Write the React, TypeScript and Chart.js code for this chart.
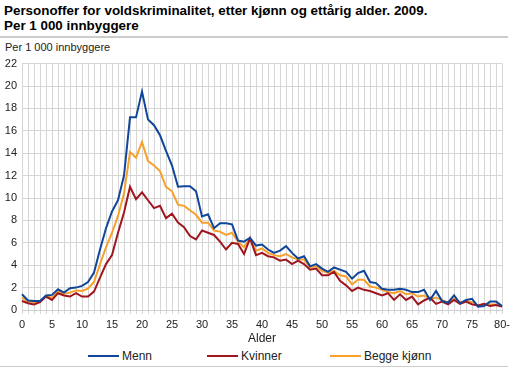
import React, { useEffect, useRef } from "react";
import { Chart, registerables } from "chart.js";

Chart.register(...registerables);

const FONT = "'Liberation Sans', Arial, Helvetica, sans-serif";

const ages: string[] = [
  "0","1","2","3","4","5","6","7","8","9",
  "10","11","12","13","14","15","16","17","18","19",
  "20","21","22","23","24","25","26","27","28","29",
  "30","31","32","33","34","35","36","37","38","39",
  "40","41","42","43","44","45","46","47","48","49",
  "50","51","52","53","54","55","56","57","58","59",
  "60","61","62","63","64","65","66","67","68","69",
  "70","71","72","73","74","75","76","77","78","79",
  "80-",
];

const menn: number[] = [
  1.4, 0.85, 0.8, 0.8, 1.3, 1.35, 1.85, 1.55, 1.95, 2.0,
  2.15, 2.5, 3.35, 5.4, 7.3, 8.8, 9.8, 12.0, 17.2, 17.2,
  19.5, 17.0, 16.5, 15.6, 14.2, 12.9, 11.0, 11.05, 11.05, 10.6,
  8.35, 8.55, 7.3, 7.75, 7.75, 7.65, 6.2, 6.1, 6.45, 5.75,
  5.85, 5.4, 5.1, 5.3, 5.7, 5.1, 4.6, 4.8, 3.9, 4.1,
  3.7, 3.4, 3.8, 3.6, 3.4, 2.8, 3.3, 3.5, 2.5, 2.4,
  1.9, 1.8, 1.8, 1.9, 1.8, 1.6, 1.6, 1.8, 0.9, 1.7,
  0.8, 0.65, 1.3, 0.6, 0.9, 1.0, 0.3, 0.35, 0.75, 0.75,
  0.35,
];

const kvinner: number[] = [
  0.8, 0.6, 0.5, 0.7, 1.2, 0.9, 1.5, 1.3, 1.2, 1.5,
  1.2, 1.2, 1.65, 2.9, 4.1, 4.9, 6.9, 8.7, 11.0, 9.9,
  10.5, 9.8, 9.1, 9.3, 8.2, 8.6, 7.8, 7.4, 6.6, 6.3,
  7.1, 6.9, 6.7, 6.1, 5.4, 6.0, 5.9, 5.0, 6.4, 4.9,
  5.1, 4.8, 4.7, 4.4, 4.5, 4.1, 4.4, 4.1, 3.6, 3.7,
  3.1, 3.1, 3.4, 2.6, 2.2, 1.7, 2.0, 1.8, 1.7, 1.5,
  1.3, 1.5, 0.9, 1.4, 0.9, 1.2, 0.5, 0.85, 1.1, 0.55,
  0.75, 0.5, 0.9, 0.55, 0.75, 0.5, 0.4, 0.55, 0.35, 0.45,
  0.3,
];

const begge: number[] = [
  1.1, 0.75, 0.7, 0.75, 1.25, 1.1, 1.65, 1.45, 1.55, 1.75,
  1.7, 1.9, 2.5, 4.1, 5.6, 6.9, 8.4, 10.4, 14.1, 13.6,
  15.0, 13.3, 12.9, 12.4, 11.0, 10.6, 9.4, 9.3, 8.9, 8.5,
  7.8, 7.8, 7.1, 7.0, 6.7, 6.9, 6.1, 5.6, 6.4, 5.3,
  5.5, 5.1, 4.9, 4.8, 5.0, 4.7, 4.5, 4.5, 3.8, 3.9,
  3.5, 3.3, 3.5, 3.1, 3.0, 2.3, 2.7, 2.7, 2.1, 2.0,
  1.8, 1.6, 1.5, 1.7, 1.4, 1.5, 1.2, 1.3, 1.0, 1.1,
  0.9, 0.65, 1.0, 0.7, 0.8, 0.7, 0.35, 0.45, 0.5, 0.5,
  0.3,
];

const seriesNames = ["Menn", "Kvinner", "Begge kjønn"];
const seriesColors = ["#10469a", "#a0161f", "#f7a02c"];

const titleLine1 = "Personoffer for voldskriminalitet, etter kjønn og ettårig alder. 2009.";
const titleLine2 = "Per 1 000 innbyggere";
const yAxisLabel = "Per 1 000 innbyggere";
const xAxisLabel = "Alder";

export default function App() {
  const canvasRef = useRef<HTMLCanvasElement | null>(null);

  useEffect(() => {
    if (!canvasRef.current) return;
    const seriesData = [menn, kvinner, begge];
    const chart = new Chart(canvasRef.current, {
      type: "line",
      data: {
        labels: ages,
        datasets: seriesNames.map((name, i) => ({
          label: name,
          data: seriesData[i],
          borderColor: seriesColors[i],
          backgroundColor: seriesColors[i],
          borderWidth: 2,
          pointRadius: 0,
          tension: 0,
          fill: false,
        })),
      },
      options: {
        responsive: false,
        animation: false,
        layout: { padding: { top: 10, right: 9, left: 0, bottom: 0 } },
        plugins: {
          legend: { display: false },
          tooltip: { enabled: false },
        },
        scales: {
          x: {
            type: "category",
            offset: false,
            grid: { color: "#d6d6d6", lineWidth: 1, tickLength: 4, drawTicks: true },
            border: { color: "#cfcfcf" },
            ticks: {
              autoSkip: false,
              maxRotation: 0,
              minRotation: 0,
              padding: 4,
              color: "#222",
              font: { family: FONT, size: 11 },
              callback: (_v: any, idx: number) => (idx % 5 === 0 ? ages[idx] : ""),
            },
            title: {
              display: true,
              text: xAxisLabel,
              color: "#222",
              font: { family: FONT, size: 12 },
              padding: { top: 0, bottom: 0 },
            },
            afterFit: (s: any) => {
              s.height = 36;
            },
          },
          y: {
            min: 0,
            max: 22,
            grid: { color: "#d6d6d6", lineWidth: 1, drawTicks: false },
            border: { display: false },
            ticks: {
              stepSize: 2,
              padding: 5,
              color: "#222",
              font: { family: FONT, size: 11 },
            },
            afterFit: (s: any) => {
              s.width = 22;
            },
          },
        },
      },
    });
    return () => chart.destroy();
  }, []);

  const legendItems = [
    { x: 88, tx: 122 },
    { x: 207, tx: 241 },
    { x: 330, tx: 364 },
  ];

  return (
    <div
      style={{
        position: "absolute",
        left: 0,
        top: 0,
        width: 514,
        height: 368,
        background: "#fff",
        fontFamily: FONT,
        color: "#000",
        overflow: "hidden",
      }}
    >
      <div
        style={{
          position: "absolute",
          left: 4,
          top: 3,
          fontSize: 13.4,
          fontWeight: "bold",
          lineHeight: "15px",
          whiteSpace: "nowrap",
        }}
      >
        <div>{titleLine1}</div>
        <div>{titleLine2}</div>
      </div>
      <div
        style={{
          position: "absolute",
          left: 0,
          top: 36,
          width: 508,
          height: 2,
          background: "#cccccc",
        }}
      />
      <div
        style={{
          position: "absolute",
          left: 5,
          top: 40,
          fontSize: 11,
          lineHeight: "14px",
          color: "#222",
          whiteSpace: "nowrap",
        }}
      >
        {yAxisLabel}
      </div>
      <canvas
        ref={canvasRef}
        width={514}
        height={294}
        style={{ position: "absolute", left: 0, top: 52, width: 514, height: 294 }}
      />
      {seriesNames.map((name, i) => (
        <React.Fragment key={name}>
          <div
            style={{
              position: "absolute",
              left: legendItems[i].x,
              top: 355,
              width: 31,
              height: 2,
              background: seriesColors[i],
            }}
          />
          <div
            style={{
              position: "absolute",
              left: legendItems[i].tx,
              top: 349,
              fontSize: 12,
              lineHeight: "15px",
              color: "#222",
              whiteSpace: "nowrap",
            }}
          >
            {name}
          </div>
        </React.Fragment>
      ))}
      <div
        style={{
          position: "absolute",
          left: 0,
          top: 366,
          width: 508,
          height: 1,
          background: "#cccccc",
        }}
      />
    </div>
  );
}
